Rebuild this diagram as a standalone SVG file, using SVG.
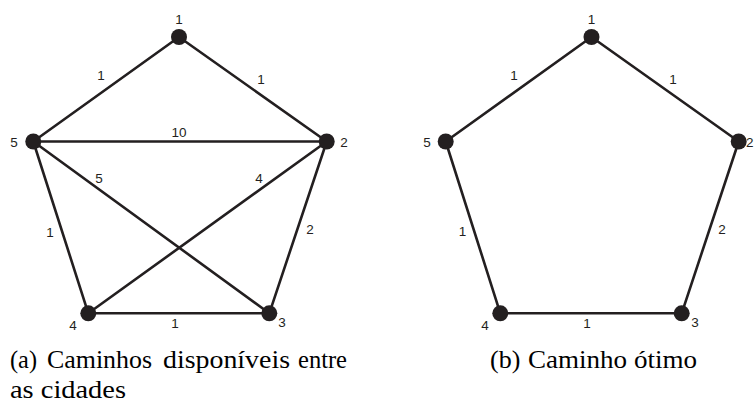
<svg xmlns="http://www.w3.org/2000/svg" width="754" height="403" viewBox="0 0 754 403">
<style>
.e{stroke:#231f20;stroke-width:2.6;fill:none;stroke-linecap:round}
.n{fill:#231f20}
.l{font-family:'Liberation Sans',Arial,sans-serif;font-size:13.5px;fill:#231f20;text-anchor:middle}
.c{font-family:'Liberation Serif','Times New Roman',serif;font-size:26px;fill:#000}
</style>
<rect width="754" height="403" fill="#fff"/>
<g id="connectors-a">
<line class="e" x1="179" y1="37" x2="33.3" y2="141.5"/>
<line class="e" x1="179" y1="37" x2="326.7" y2="141.5"/>
<line class="e" x1="33.3" y1="141.5" x2="326.7" y2="141.5"/>
<line class="e" x1="33.3" y1="141.5" x2="269.3" y2="313.3"/>
<line class="e" x1="33.3" y1="141.5" x2="88.3" y2="313.3"/>
<line class="e" x1="326.7" y1="141.5" x2="88.3" y2="313.3"/>
<line class="e" x1="326.7" y1="141.5" x2="269.3" y2="313.3"/>
<line class="e" x1="88.3" y1="313.3" x2="269.3" y2="313.3"/>
</g>
<g id="edge-labels-a">
<text class="l" x="101" y="80">1</text>
<text class="l" x="261" y="84">1</text>
<text class="l" x="179" y="137">10</text>
<text class="l" x="99" y="183">5</text>
<text class="l" x="259" y="183">4</text>
<text class="l" x="50" y="237">1</text>
<text class="l" x="310" y="234">2</text>
<text class="l" x="175" y="328">1</text>
</g>
<g id="a-node1"><circle class="n" cx="179" cy="37" r="8"/><text class="l" x="179" y="24">1</text></g>
<g id="a-node2"><circle class="n" cx="326.7" cy="141.5" r="8"/><text class="l" x="344" y="147">2</text></g>
<g id="a-node3"><circle class="n" cx="269.3" cy="313.3" r="8"/><text class="l" x="282" y="327">3</text></g>
<g id="a-node4"><circle class="n" cx="88.3" cy="313.3" r="8"/><text class="l" x="73" y="330">4</text></g>
<g id="a-node5"><circle class="n" cx="33.3" cy="141.5" r="8"/><text class="l" x="14" y="147">5</text></g>
<g id="caption-a">
<text class="c" x="10" y="368" textLength="27" lengthAdjust="spacingAndGlyphs">(a)</text>
<text class="c" x="47" y="368" textLength="105" lengthAdjust="spacingAndGlyphs">Caminhos</text>
<text class="c" x="163" y="368" textLength="127" lengthAdjust="spacingAndGlyphs">disponíveis</text>
<text class="c" x="298" y="368" textLength="49" lengthAdjust="spacingAndGlyphs">entre</text>
<text class="c" x="10" y="398" textLength="116" lengthAdjust="spacingAndGlyphs">as cidades</text>
</g>
<g id="connectors-b">
<line class="e" x1="591.5" y1="37" x2="445.7" y2="141.5"/>
<line class="e" x1="591.5" y1="37" x2="738.7" y2="141.5"/>
<line class="e" x1="445.7" y1="141.5" x2="500.3" y2="313.3"/>
<line class="e" x1="738.7" y1="141.5" x2="681.7" y2="313.3"/>
<line class="e" x1="500.3" y1="313.3" x2="681.7" y2="313.3"/>
</g>
<g id="edge-labels-b">
<text class="l" x="514" y="80">1</text>
<text class="l" x="673" y="84">1</text>
<text class="l" x="462.5" y="236">1</text>
<text class="l" x="722" y="234">2</text>
<text class="l" x="587" y="328">1</text>
</g>
<g id="b-node1"><circle class="n" cx="591.5" cy="37" r="8"/><text class="l" x="591.5" y="24">1</text></g>
<g id="b-node2"><circle class="n" cx="738.7" cy="141.5" r="8"/><text class="l" x="753.5" y="147" style="text-anchor:end">2</text></g>
<g id="b-node3"><circle class="n" cx="681.7" cy="313.3" r="8"/><text class="l" x="695" y="327">3</text></g>
<g id="b-node4"><circle class="n" cx="500.3" cy="313.3" r="8"/><text class="l" x="485" y="330">4</text></g>
<g id="b-node5"><circle class="n" cx="445.7" cy="141.5" r="8"/><text class="l" x="427" y="147">5</text></g>
<g id="caption-b">
<text class="c" x="490" y="368">(b)</text>
<text class="c" x="528" y="368" textLength="169" lengthAdjust="spacingAndGlyphs">Caminho ótimo</text>
</g>
</svg>
